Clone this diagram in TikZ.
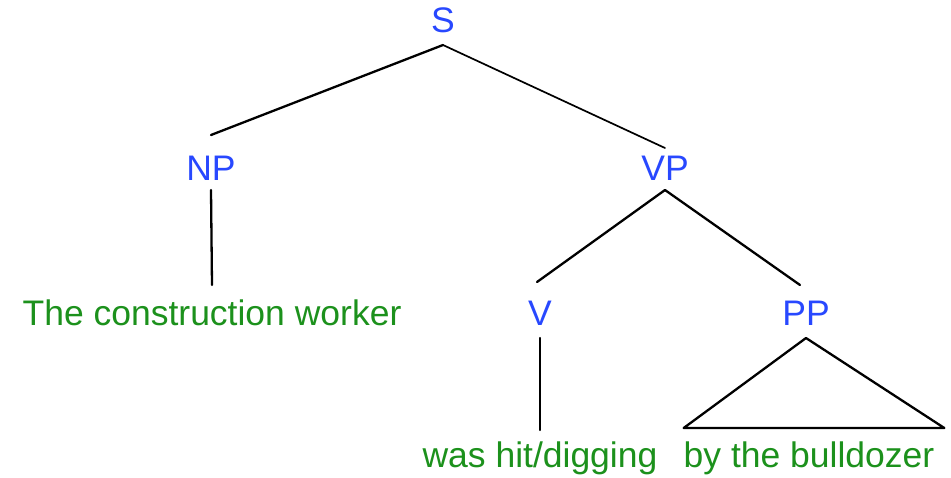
\documentclass[tikz,border=0pt]{standalone}
\usepackage{fontspec}
\setmainfont{Liberation Sans}
\definecolor{catblue}{RGB}{40,72,255}
\definecolor{wordgreen}{RGB}{28,145,28}
\begin{document}
\begin{tikzpicture}[x=1pt,y=-1pt,
  lbl/.style={inner sep=0pt,outer sep=0pt,anchor=base,text height=25pt,text depth=0pt,
    font=\fontsize{35.5}{40}\selectfont},
  cat/.style={lbl,text=catblue},
  word/.style={lbl,text=wordgreen},
  edge/.style={draw=black,line width=2.3pt,line cap=round,line join=round}]
\useasboundingbox (0,0) rectangle (951,477);

% category labels (positioned at their baselines)
\node[cat] (S)  at (443,32)  {S};
\node[cat] (NP) at (211,180) {NP};
\node[cat] (VP) at (665,180) {VP};
\node[cat] (V)  at (540,325) {V};
\node[cat] (PP) at (806,325) {PP};

% terminal strings
\node[word] (w1) at (212,325) {The construction worker};
\node[word] (w2) at (540,467) {was hit/digging};
\node[word] (w3) at (809,467) {by the bulldozer};

% branches
\draw[edge] ([yshift=-13pt]S.south) -- ([yshift=20pt]NP.north);
\draw[edge,line width=1.7pt] ([yshift=-13pt]S.south) -- ([yshift=7pt]VP.north);
\draw[edge] ([yshift=-10pt]NP.south) -- ([yshift=15pt]w1.north);
\draw[edge] ([yshift=-10pt]VP.south) -- ([xshift=-3pt,yshift=18pt]V.north);
\draw[edge] ([yshift=-10pt]VP.south) -- ([xshift=-6pt,yshift=15pt]PP.north);
\draw[edge] ([yshift=-13pt]V.south) -- ([yshift=12pt]w2.north);

% triangle over the unanalysed PP
\draw[edge] ([yshift=-13pt]PP.south)
  -- ([yshift=14pt]w3.north west)
  -- ([xshift=10pt,yshift=14pt]w3.north east) -- cycle;
\end{tikzpicture}
\end{document}
